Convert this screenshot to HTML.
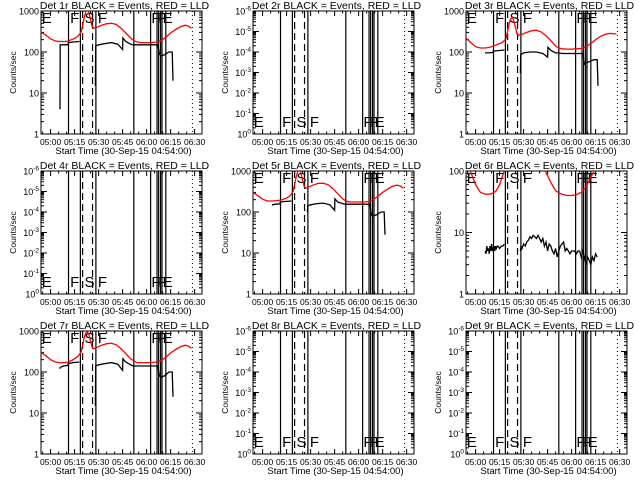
<!DOCTYPE html>
<html><head><meta charset="utf-8"><style>
html,body{margin:0;padding:0;background:#fff;}
svg{display:block;font-family:"Liberation Sans",sans-serif;}
</style></head><body>
<svg id="c" width="640" height="480" xmlns="http://www.w3.org/2000/svg"></svg>
<script>
// ---- data ----
const detNames = ["1r","2r","3r","4r","5r","6r","7r","8r","9r"];
const xTickLabels = ["05:00","05:15","05:30","05:45","06:00","06:15","06:30"];
const xTickMinutes = [6,21,36,51,66,81,96];
const solidLineMinutes = [17.2,24.6,34.3,58,68.5,72.5,73.5,74.7,75.6,78];
const dashedLineMinutes = [26,32.2];
const dottedLineMinutes = [94.6];
const segLetters = ["E","F","S","F","F","F","E"];
const segLetterMinutes = [0.5,18.2,27.2,35.5,69,72.5,76];
const redT = [0,3,6,9,12,15,17,19,21,23,25,26,27,28,29,30,31,32,33,35,38,41,44,47,50,53,56,58,60,63,66,69,72,75,78,81,84,87,90,92,94];
const red1 = [300,260,210,185,180,180,185,200,215,240,300,450,700,950,1100,900,600,420,380,400,450,490,500,470,380,290,220,190,175,170,170,170,175,190,230,290,350,410,450,430,380];
const red3 = [220,170,135,125,125,130,140,150,160,175,210,320,500,650,700,560,380,270,255,270,300,330,340,310,250,190,140,125,120,118,118,120,122,135,160,200,240,270,285,280,275];
const red5 = [300,250,205,185,185,190,195,205,220,245,310,470,720,980,1100,900,600,420,380,410,460,500,500,460,370,280,210,185,175,175,175,175,180,200,240,300,360,420,450,430,380];
const red6 = [130,95,60,45,42,42,44,48,60,85,120,150,180,200,210,200,180,160,150,160,170,170,160,130,95,65,48,44,42,40,40,41,45,55,80,110,140,170,190,190,190];
const red7 = [300,250,200,175,170,170,175,190,210,240,300,450,700,900,950,800,550,400,370,400,450,490,500,460,370,280,210,185,170,170,170,170,175,190,230,290,350,410,450,430,380];
const blackT = [11.9,12.0,14,16.9,17.0,20,24,25,34,34.2,36,40,44,48,51,51.2,53,56,57.5,60,65,70,73,74,75,77,80,82,82.5];
const black1 = [4,150,150,150,170,175,180,null,15,140,150,160,170,155,115,220,180,155,150,150,150,150,150,90,80,85,100,100,20];
const black3 = [95,95,95,97,105,108,112,null,30,85,95,100,100,92,75,130,110,95,95,92,92,92,92,50,55,58,65,65,15];
const black5 = [150,150,155,158,175,180,185,null,100,140,150,160,165,150,110,210,175,160,155,155,155,155,155,85,80,85,100,100,28];
const black7 = [120,130,140,145,160,170,175,null,15,140,150,160,170,155,110,210,175,150,140,140,140,140,140,80,75,80,100,100,25];
const black6T = [12,12.5,13,13.5,14,14.5,15,15.5,16,16.5,17,17.5,18,18.5,19,19.5,20,21,22,23,24,25,34,34.5,35,36,37,38,39,40,41,42,43,44,45,46,47,48,49,50,51,52,53,54,55,56,57,58,59,60,61,62,63,64,65,66,67,68,69,70,71,72,73,74,75,76,77,78,79,80,81,82];
const black6 = [5,4.5,6,5,5.5,4.5,6,5,6.5,5,5.5,6,5,6,5.5,6,6,5.5,6,6,6.5,null,5,6,5.5,6.5,6,7,7.5,8.5,8,9,8.5,8,9,8,7,8,6,7,5,6.5,6,5,4.5,5.5,4,5,6,6.5,7,5,5.5,5,4.5,5,5,5,4.5,5,5,4,5,4,3,4,3.5,3,4,3.5,4.5,4];
const panelRed = [red1,null,red3,null,red5,red6,red7,null,null];
const panelBlackT = [blackT,null,blackT,null,blackT,black6T,blackT,null,null];
const panelBlack = [black1,null,black3,null,black5,black6,black7,null,null];
const panelYMax = [1000,1,1000,1,1000,100,1000,1,1];

// ---- drawing ----
const NS="http://www.w3.org/2000/svg";
const svg=document.getElementById('c');
const BX0=41,BX1=202,BY0=11,BY1=134,TMAX=100.6;
const colOff=[0,212,425],rowOff=[0,160,320];
function xs(t){return BX0+t/TMAX*(BX1-BX0);}
function mk(tag,attrs,parent){const e=document.createElementNS(NS,tag);for(const k in attrs)e.setAttribute(k,attrs[k]);parent.appendChild(e);return e;}

for(let p=0;p<9;p++){
  const g=mk('g',{transform:`translate(${colOff[p%3]},${rowOff[Math.floor(p/3)]})`},svg);
  
  
  const hasData=panelRed[p]!==null;
  const lo=hasData?1:1e-6, hi=hasData?panelYMax[p]:1;
  // empty panels: log axis 10^0 (bottom) .. 10^-6 (top) as drawn
  function ys(v){return BY1-(Math.log10(v)-Math.log10(lo))/(Math.log10(hi)-Math.log10(lo))*(BY1-BY0);}
  const cid='clip'+p;
  const cp=mk('clipPath',{id:cid},g);mk('rect',{x:BX0,y:BY0,width:BX1-BX0,height:BY1-BY0},cp);
  // title
  const title=mk('text',{x:(BX0+BX1)/2+3,y:9,'text-anchor':'middle','font-size':'10.5'},g);
  title.textContent='Det '+detNames[p]+' BLACK = Events, RED = LLD';
  
  
  // box
  const box=mk('rect',{x:BX0,y:BY0,width:BX1-BX0,height:BY1-BY0,fill:'none',stroke:'#000','stroke-width':1},g);
  
  
  // x ticks
  for(let t=1;t<TMAX;t+=5){
    const major=((t-6)%15===0);const L=major?5:2.5;const X=xs(t);
    mk('line',{x1:X,x2:X,y1:BY1,y2:BY1-L,stroke:'#000'},g);
    mk('line',{x1:X,x2:X,y1:BY0,y2:BY0+L,stroke:'#000'},g);
  }
  for(let i=0;i<xTickMinutes.length;i++){
    const tl=mk('text',{x:xs(xTickMinutes[i]),y:145,'text-anchor':'middle','font-size':'8.5'},g);
    tl.textContent=xTickLabels[i];
    
    
  }
  const xt=mk('text',{x:(BX0+BX1)/2+2,y:154,'text-anchor':'middle','font-size':'9.5'},g);
  xt.textContent='Start Time (30-Sep-15 04:54:00)';
  
  
  const yt=mk('text',{x:0,y:0,'text-anchor':'middle','font-size':'8.5',transform:`translate(16,${(BY0+BY1)/2}) rotate(-90)`},g);
  yt.textContent='Counts/sec';
  
  
  // y ticks
  const e0=Math.round(Math.log10(lo)),e1=Math.round(Math.log10(hi));
  for(let e=e0;e<=e1;e++){
    const Y=ys(Math.pow(10,e));
    mk('line',{x1:BX0,x2:BX0+6,y1:Y,y2:Y,stroke:'#000'},g);
    mk('line',{x1:BX1,x2:BX1-6,y1:Y,y2:Y,stroke:'#000'},g);
    if(e<e1){for(let m=2;m<10;m++){const Ym=ys(m*Math.pow(10,e));
      mk('line',{x1:BX0,x2:BX0+3,y1:Ym,y2:Ym,stroke:'#000'},g);
      mk('line',{x1:BX1,x2:BX1-3,y1:Ym,y2:Ym,stroke:'#000'},g);}}
    const lab=mk('text',{x:BX0-2,y:Y+3.5,'text-anchor':'end','font-size':'9'},g);
    if(hasData){lab.textContent=String(Math.pow(10,e));}
    else{ // reference labels run 10^-6 at top to 10^0 at bottom
      const ev=-(e-e0)- (0); const shown=(e===e1)?-6:-(e1-e)+0; 
      const expo = -( (e - e0) ); 
      lab.textContent='10';
      const sp=mk('tspan',{dy:-4,'font-size':'6.5'},lab); sp.textContent=String(-6+(e1-e)===0?0:(e-e1)===0?-6:-(e-e0));
      // simpler explicit mapping
      sp.textContent = String(e===e0?0:-(e-e0));
      if(e===e1) sp.textContent='-6';
    }
    
    
  }
  // vertical lines
  solidLineMinutes.forEach(t=>{const l=mk('line',{x1:xs(t),x2:xs(t),y1:BY0,y2:BY1,stroke:'#000','stroke-width':1.2},g);
    });
  dashedLineMinutes.forEach(t=>{const l=mk('line',{x1:xs(t),x2:xs(t),y1:BY0,y2:BY1,stroke:'#000','stroke-width':1.2,'stroke-dasharray':'7,4'},g);
    });
  dottedLineMinutes.forEach(t=>{const l=mk('line',{x1:xs(t),x2:xs(t),y1:BY0,y2:BY1,stroke:'#000','stroke-width':1,'stroke-dasharray':'1,3'},g);
    });
  // letters
  for(let i=0;i<segLetters.length;i++){
    const ly=hasData?BY0+12:BY1-7;
    const lt=mk('text',{x:xs(segLetterMinutes[i]),y:ly,'font-size':'15'},g);
    lt.textContent=segLetters[i];
    
    
  }
  if(hasData){
    const cg=mk('g',{'clip-path':`url(#${cid})`},g);
    function path(T,V){let d='',pen=false;for(let i=0;i<T.length;i++){if(V[i]===null){pen=false;continue;}
      d+=(pen?'L':'M')+xs(T[i]).toFixed(1)+','+ys(V[i]).toFixed(1);pen=true;}return d;}
    const rp=mk('path',{d:path(redT,panelRed[p]),fill:'none',stroke:'#ff0000','stroke-width':1.3},cg);
    
    
    const bp=mk('path',{d:path(panelBlackT[p],panelBlack[p]),fill:'none',stroke:'#000','stroke-width':1.3},cg);
    
    
  }
}
</script>
</body></html>
